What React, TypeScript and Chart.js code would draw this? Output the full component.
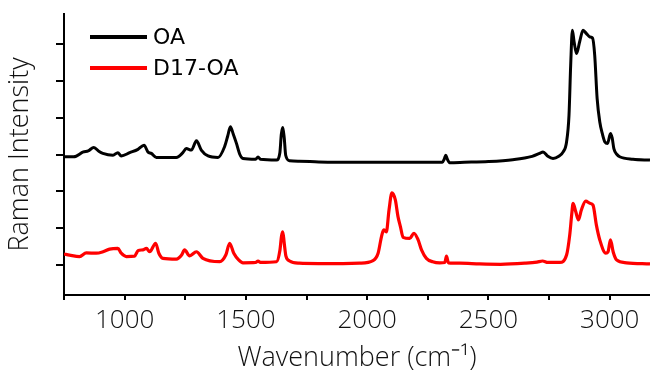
import React, { useEffect, useRef } from "react";
import { Chart, registerables } from "chart.js";

Chart.register(...registerables);

// Wavenumbers (cm-1) and intensities (a.u., offset stacked)
const oaWavenumbers = [
  750, 790, 830, 850, 873, 895, 910, 952, 972, 986, 1021, 1055, 1080, 1096, 1110, 1131, 1213, 1240, 1254, 1275,
  1296, 1316, 1344, 1385, 1412, 1425, 1436, 1448, 1461, 1475, 1488, 1540, 1550, 1560, 1626, 1640, 1646, 1652,
  1658, 1664, 1680, 1720, 1800, 2000, 2200, 2310, 2318, 2324, 2330, 2340, 2400, 2500, 2600, 2680, 2711, 2725,
  2745, 2766, 2790, 2808, 2822, 2832, 2839, 2846, 2853, 2863, 2876, 2890, 2904, 2918, 2929, 2938, 2948, 2959,
  2970, 2980, 2991, 3003, 3010, 3017, 3030, 3041, 3096, 3166,
];
const oaIntensity = [
  3.94, 3.94, 4.07, 4.1, 4.19, 4.08, 4.03, 3.98, 4.05, 3.96, 4.05, 4.14, 4.25, 4.07, 4.03, 3.92, 3.92, 4.05, 4.16, 4.12,
  4.37, 4.12, 3.96, 3.92, 4.21, 4.5, 4.75, 4.55, 4.3, 4.0, 3.89, 3.87, 3.93, 3.87, 3.85, 4.05, 4.55, 4.73,
  4.45, 3.98, 3.83, 3.82, 3.8, 3.79, 3.79, 3.79, 3.88, 3.98, 3.88, 3.78, 3.79, 3.81, 3.86, 3.95, 4.03, 4.07,
  3.95, 3.89, 3.95, 4.07, 4.34, 5.06, 6.42, 7.36, 7.05, 6.73, 7.05, 7.36, 7.27, 7.18, 7.15, 6.69, 5.52, 4.88,
  4.55, 4.34, 4.3, 4.57, 4.45, 4.16, 4.0, 3.94, 3.87, 3.85,
];

const d17Wavenumbers = [
  750, 773, 814, 842, 883, 911, 938, 972, 986, 1007, 1041, 1055, 1075, 1090, 1103, 1128, 1141, 1158, 1213, 1235,
  1247, 1268, 1296, 1323, 1392, 1417, 1433, 1450, 1470, 1488, 1540, 1550, 1560, 1626, 1640, 1647, 1652, 1658,
  1665, 1680, 1720, 1800, 1900, 1969, 2024, 2045, 2059, 2068, 2079, 2090, 2102, 2116, 2127, 2137, 2148, 2175,
  2193, 2210, 2224, 2244, 2270, 2299, 2320, 2327, 2335, 2382, 2464, 2550, 2650, 2700, 2723, 2745, 2794, 2822,
  2835, 2843, 2849, 2860, 2871, 2883, 2901, 2918, 2931, 2945, 2959, 2984, 2993, 3003, 3014, 3028, 3069, 3166,
];
const d17Intensity = [
  1.31, 1.28, 1.24, 1.34, 1.33, 1.37, 1.44, 1.46, 1.33, 1.24, 1.25, 1.4, 1.42, 1.46, 1.37, 1.6, 1.33, 1.19, 1.17, 1.28,
  1.42, 1.26, 1.37, 1.19, 1.1, 1.28, 1.6, 1.33, 1.15, 1.07, 1.08, 1.12, 1.08, 1.1, 1.4, 1.8, 1.91, 1.6,
  1.25, 1.12, 1.06, 1.05, 1.05, 1.06, 1.13, 1.33, 1.78, 1.96, 1.91, 2.5, 2.96, 2.77, 2.32, 2.05, 1.76, 1.73,
  1.87, 1.69, 1.42, 1.19, 1.1, 1.07, 1.08, 1.25, 1.07, 1.06, 1.04, 1.03, 1.06, 1.09, 1.12, 1.08, 1.08, 1.28,
  1.82, 2.36, 2.68, 2.45, 2.23, 2.5, 2.74, 2.68, 2.63, 2.09, 1.69, 1.33, 1.37, 1.69, 1.37, 1.15, 1.07, 1.04,
];

const seriesLabels = ["OA", "D17-OA"];
const yTickValues = [1, 2, 3, 4, 5, 6, 7];
const xRange = [750, 3166];
const yRange = [0.2, 7.8];

const legendPlugin = {
  id: "customLegend",
  afterDraw(chart: any) {
    const { ctx, chartArea } = chart;
    ctx.save();
    chart.data.datasets.forEach((ds: any, i: number) => {
      const y = chartArea.top + 23 + i * 31;
      const x0 = chartArea.left + 26;
      ctx.strokeStyle = ds.borderColor;
      ctx.lineWidth = 4;
      ctx.beginPath();
      ctx.moveTo(x0, y);
      ctx.lineTo(x0 + 57, y);
      ctx.stroke();
      ctx.fillStyle = "#000";
      ctx.font = "22px 'DejaVu Sans'";
      ctx.textBaseline = "middle";
      ctx.fillText(ds.label, x0 + 63, y + 1);
    });
    ctx.restore();
  },
};

export default function App() {
  const ref = useRef<HTMLCanvasElement>(null);
  useEffect(() => {
    document.body.style.margin = "0";
    const toPts = (xs: number[], ys: number[]) => xs.map((x, i) => ({ x, y: ys[i] }));
    const chart = new Chart(ref.current!, {
      type: "line",
      data: {
        datasets: [
          {
            label: seriesLabels[0],
            data: toPts(oaWavenumbers, oaIntensity),
            borderColor: "#000000",
            borderWidth: 3,
            pointRadius: 0,
            cubicInterpolationMode: "monotone",
          },
          {
            label: seriesLabels[1],
            data: toPts(d17Wavenumbers, d17Intensity),
            borderColor: "#ff0000",
            borderWidth: 3.2,
            pointRadius: 0,
            cubicInterpolationMode: "monotone",
          },
        ],
      },
      options: {
        animation: false,
        responsive: false,
        devicePixelRatio: 1,
        layout: { padding: { top: 14, right: 0, left: 0, bottom: 0 } },
        plugins: { legend: { display: false }, tooltip: { enabled: false } },
        scales: {
          x: {
            type: "linear",
            min: xRange[0],
            max: xRange[1],
            afterFit: (s: any) => {
              s.height = 80;
            },
            border: { display: true, color: "#000", width: 2 },
            grid: { display: true, drawOnChartArea: false, drawTicks: true, tickLength: 5, color: "#000", lineWidth: 2 },
            ticks: {
              stepSize: 250,
              includeBounds: false,
              autoSkip: false,
              maxRotation: 0,
              color: "#111",
              padding: 5,
              font: { family: "'Open Sans'", size: 26, weight: "300" as any },
              callback: (v: any) => (Number(v) % 500 === 0 ? String(v) : ""),
            },
            title: {
              display: true,
              text: "Wavenumber (cm\u207B\u00B9)",
              color: "#111",
              font: { family: "'Open Sans'", size: 27, weight: "300" as any },
              padding: { top: 0, bottom: 0 },
            },
          },
          y: {
            type: "linear",
            min: yRange[0],
            max: yRange[1],
            afterBuildTicks: (s: any) => {
              s.ticks = yTickValues.map((v) => ({ value: v }));
            },
            afterFit: (s: any) => {
              s.width = 64;
            },
            border: { display: true, color: "#000", width: 2 },
            grid: { display: true, drawOnChartArea: false, drawTicks: true, tickLength: 8, color: "#000", lineWidth: 2 },
            ticks: { display: false },
            title: {
              display: true,
              text: "Raman Intensity",
              color: "#111",
              font: { family: "'Open Sans'", size: 27, weight: "300" as any },
              padding: { top: 4, bottom: 0 },
            },
          },
        },
      },
      plugins: [legendPlugin],
    });
    return () => chart.destroy();
  }, []);
  return <canvas ref={ref} width={650} height={375} style={{ display: "block" }} />;
}
